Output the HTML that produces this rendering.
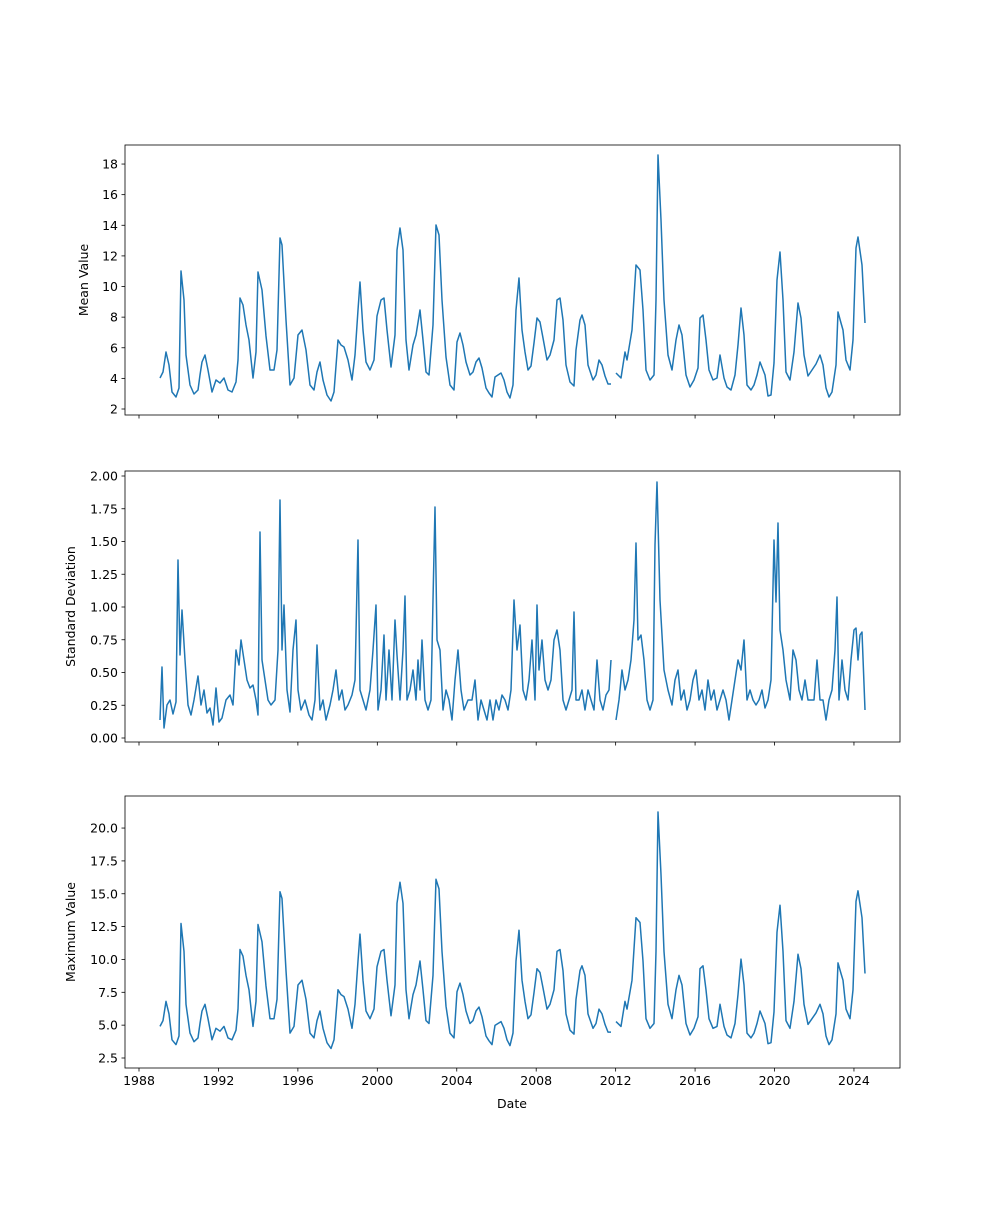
<!DOCTYPE html>
<html><head><meta charset="utf-8"><style>
html,body{margin:0;padding:0;background:#fff;}
svg text{font-family:"DejaVu Sans","Liberation Sans",sans-serif;font-size:12.5px;fill:#000;}
</style></head><body>
<svg id="s" width="1000" height="1200" xmlns="http://www.w3.org/2000/svg"></svg>
<script>
const S=document.getElementById('s');let h='';
const mean=[[160,378],[163,372],[166,352],[169,365],[172,392],[176,397],[179,388],[181,271],[184,300],[186,355],[190,385],[194,394],[198,390],[200,375],[202,362],[205,355],[208,370],[212,392],[216,380],[220,383],[224,378],[228,390],[232,392],[236,382],[238,360],[240,298],[243,305],[246,325],[249,340],[253,378],[256,352],[258,272],[262,290],[266,336],[270,370],[274,370],[277,350],[280,238],[282,245],[286,320],[290,385],[294,378],[298,335],[302,330],[306,350],[310,385],[314,390],[317,372],[320,362],[323,380],[327,395],[331,401],[334,392],[338,340],[341,345],[344,347],[348,360],[352,380],[355,355],[358,310],[360,282],[363,330],[366,362],[370,370],[374,360],[377,316],[381,300],[384,298],[387,330],[391,367],[395,335],[397,250],[400,228],[403,250],[406,340],[409,370],[413,345],[416,335],[420,310],[423,340],[426,372],[429,375],[433,325],[436,225],[439,235],[442,300],[446,357],[450,385],[454,390],[457,342],[460,333],[463,345],[466,362],[470,375],[473,372],[476,362],[479,358],[482,368],[486,388],[489,393],[492,397],[495,377],[498,375],[501,373],[504,380],[507,392],[510,398],[513,385],[516,310],[519,278],[522,330],[525,352],[528,370],[531,366],[534,343],[537,318],[540,322],[543,338],[547,360],[550,355],[554,340],[557,300],[560,298],[563,320],[566,365],[570,382],[574,386],[576,350],[580,320],[582,315],[585,325],[588,365],[593,380],[596,375],[599,360],[602,365],[605,376],[608,384],[611,384],null,[616,373],[621,378],[625,352],[627,360],[632,330],[636,265],[640,270],[643,310],[646,370],[650,380],[654,375],[656,300],[658,155],[661,220],[664,300],[668,355],[672,370],[676,340],[679,325],[682,335],[686,375],[690,387],[694,380],[698,368],[700,318],[703,315],[706,340],[709,370],[713,380],[717,378],[720,355],[724,378],[727,387],[731,390],[735,375],[738,345],[741,308],[744,335],[747,385],[751,390],[754,385],[757,375],[760,362],[765,375],[768,396],[771,395],[774,363],[777,280],[780,252],[783,300],[786,372],[790,380],[794,352],[798,303],[801,318],[804,355],[808,376],[812,370],[816,364],[820,355],[823,365],[826,388],[829,397],[832,392],[836,365],[838,312],[841,323],[843,330],[846,360],[850,370],[853,340],[856,248],[858,237],[862,265],[865,323]];
const sd=[[160,720],[162,667],[164,728],[167,705],[170,700],[173,714],[176,702],[178,560],[180,655],[182,610],[185,660],[188,705],[191,715],[194,700],[198,676],[201,705],[204,690],[207,713],[210,708],[213,725],[216,688],[219,722],[222,718],[226,700],[230,695],[233,705],[236,650],[239,665],[241,640],[244,660],[247,680],[250,688],[253,685],[256,700],[258,715],[260,532],[262,660],[265,680],[268,700],[271,705],[275,700],[278,650],[280,500],[282,650],[284,605],[287,690],[290,712],[293,650],[296,620],[298,690],[301,710],[305,700],[309,715],[312,720],[315,700],[317,645],[320,710],[323,700],[326,720],[330,705],[333,690],[336,670],[339,700],[342,690],[345,710],[348,705],[352,695],[355,680],[358,540],[360,690],[363,700],[366,710],[370,690],[373,650],[376,605],[378,710],[381,690],[384,635],[386,700],[389,650],[392,700],[395,620],[397,655],[400,700],[403,650],[405,596],[407,700],[410,690],[413,670],[416,700],[418,660],[420,690],[422,640],[425,700],[428,710],[431,700],[433,600],[435,507],[437,640],[440,650],[443,710],[446,690],[449,700],[452,720],[455,680],[458,650],[461,690],[464,710],[468,700],[472,700],[475,680],[478,720],[481,700],[484,710],[487,720],[490,700],[493,720],[496,700],[499,710],[502,695],[505,700],[508,710],[511,690],[514,600],[517,650],[520,625],[523,690],[526,700],[529,680],[532,640],[535,700],[537,605],[539,670],[542,640],[545,680],[548,690],[551,680],[554,640],[557,630],[560,650],[563,700],[566,710],[569,700],[572,690],[574,612],[576,700],[579,700],[582,690],[585,710],[588,690],[591,700],[594,710],[597,660],[600,700],[603,710],[606,695],[609,690],[611,660],null,[616,720],[619,700],[622,670],[625,690],[628,680],[631,660],[634,620],[636,543],[638,640],[641,635],[644,660],[647,700],[650,710],[653,700],[655,545],[657,482],[660,600],[664,670],[668,690],[672,705],[675,680],[678,670],[681,700],[684,690],[687,710],[690,700],[693,680],[696,670],[699,700],[702,690],[705,710],[708,680],[711,700],[714,690],[717,710],[720,700],[723,690],[726,700],[729,720],[732,700],[735,680],[738,660],[741,670],[744,640],[747,700],[750,690],[753,700],[756,705],[759,700],[762,690],[765,708],[768,700],[771,680],[774,540],[776,602],[778,523],[780,630],[783,650],[786,680],[790,700],[793,650],[796,660],[799,690],[802,700],[805,680],[808,700],[811,700],[814,700],[817,660],[820,700],[823,700],[826,720],[829,700],[832,690],[835,650],[837,597],[839,700],[842,660],[845,690],[848,700],[851,660],[854,630],[856,628],[858,660],[860,635],[862,632],[865,710]];
const mx=mean.map(p=>{if(!p)return null;const v=(409-p[1])/15.31+2;const m=v*1.12+0.4;return[p[0],1058-(m-2.5)*13.14];});
function line(pts){let segs=[[]];pts.forEach(p=>{if(!p)segs.push([]);else segs[segs.length-1].push(p[0]+','+p[1].toFixed(1));});
 return segs.map(s=>`<polyline points="${s.join(' ')}" fill="none" stroke="#1f77b4" stroke-width="1.5" stroke-linejoin="round"/>`).join('');}
function axes(top,bot,ticks,fmt,label,showX,lx){
 h+=`<rect x="125" y="${top}" width="775" height="${bot-top}" fill="none" stroke="#000" stroke-width="0.8"/>`;
 ticks.forEach(([v,y])=>{h+=`<line x1="121.5" x2="125" y1="${y}" y2="${y}" stroke="#000" stroke-width="0.8"/><text x="118" y="${y+4.5}" text-anchor="end">${fmt(v)}</text>`;});
 for(let yr=1988;yr<=2024;yr+=4){const x=139+(yr-1988)*19.86;h+=`<line x1="${x}" x2="${x}" y1="${bot}" y2="${bot+3.5}" stroke="#000" stroke-width="0.8"/>`;if(showX)h+=`<text x="${x}" y="${bot+17}" text-anchor="middle">${yr}</text>`;}
 const cy=(top+bot)/2;h+=`<text transform="translate(${lx},${cy}) rotate(-90)" text-anchor="middle">${label}</text>`;}
let t1=[];for(let v=2;v<=18;v+=2)t1.push([v,409-(v-2)*15.31]);
let t2=[];for(let v=0;v<=2;v+=0.25)t2.push([v,738-v*131]);
let t3=[];for(let v=2.5;v<=20;v+=2.5)t3.push([v,1058-(v-2.5)*13.14]);
axes(145,415,t1,v=>v,'Mean Value',false,88);
axes(471,742,t2,v=>v.toFixed(2),'Standard Deviation',false,75);
axes(796,1068,t3,v=>v.toFixed(1),'Maximum Value',true,75);
h+=line(mean)+line(sd)+line(mx);
h+=`<text x="512" y="1108" text-anchor="middle">Date</text>`;
S.innerHTML=h;
</script>
</body></html>
